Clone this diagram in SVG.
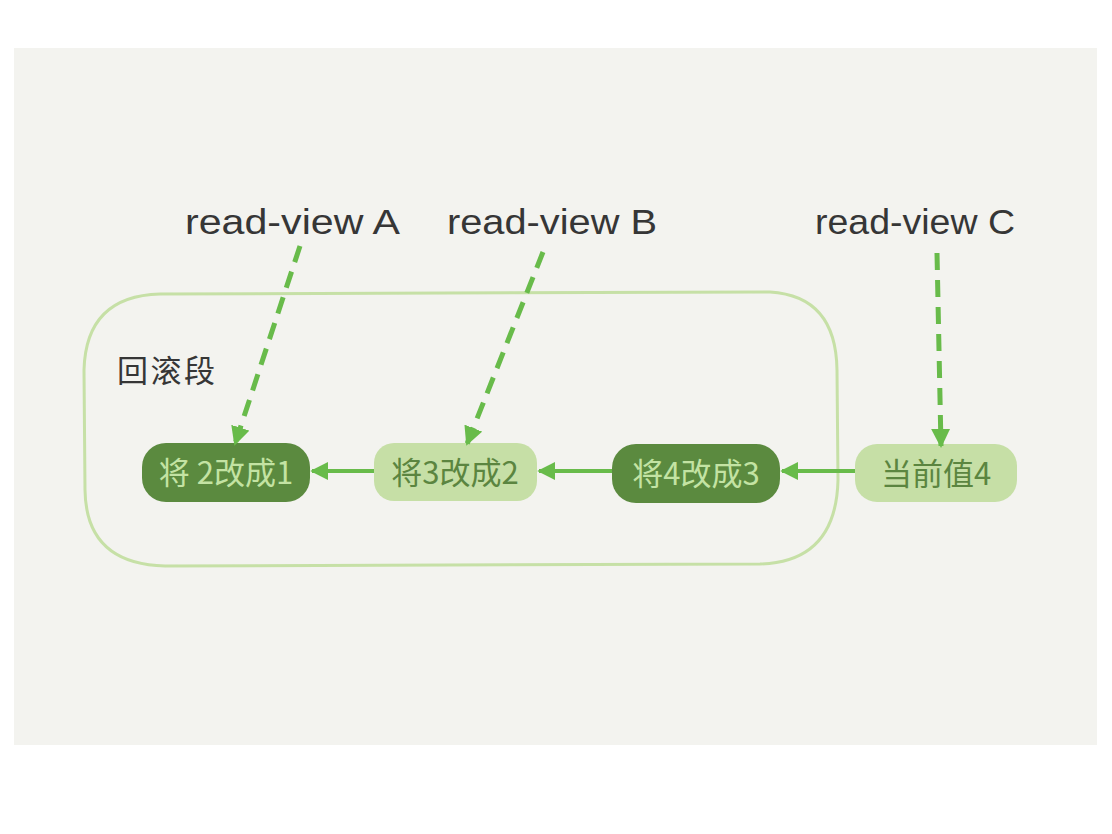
<svg xmlns="http://www.w3.org/2000/svg" width="1112" height="834" viewBox="0 0 1112 834">
<style>
.lbl{font-family:"Liberation Sans","Noto Sans CJK SC",sans-serif;fill:#363636;font-size:35px}
.cn{font-family:"Noto Sans CJK SC","Liberation Sans",sans-serif;font-size:31px}
.dark{fill:#5b8a3f}
.light{fill:#c6dfa6}
.dtxt{fill:#c3e3a3}
.ltxt{fill:#5b8540}
.link{stroke:#68bb4a;stroke-width:4;fill:none}
.dash{stroke:#68bb4a;stroke-width:5;fill:none;stroke-dasharray:17 10}
</style>
<defs>
<marker id="ah" viewBox="0 0 10 10" refX="9" refY="5" markerWidth="4.5" markerHeight="4.5" orient="auto" markerUnits="strokeWidth">
<path d="M0,0 L10,5 L0,10 Z" fill="#68bb4a"/>
</marker>
<marker id="ahd" viewBox="0 0 10 10" refX="9" refY="5" markerWidth="3.8" markerHeight="3.8" orient="auto" markerUnits="strokeWidth">
<path d="M0,0 L10,5 L0,10 Z" fill="#68bb4a"/>
</marker>
</defs>
<rect x="0" y="0" width="1112" height="834" fill="#ffffff"/>
<rect x="14" y="48" width="1083" height="697" fill="#f3f3ef"/>

<g id="container">
<path d="M160,294 L770,292 Q836,296 837,370 L838,480 Q836,562 760,564 L165,566 Q86,564 85,490 L84,370 Q86,296 160,294 Z" fill="none" stroke="#c6e0a6" stroke-width="3"/>
<text class="cn" x="117" y="382" font-size="32" fill="#363636" textLength="98">回滚段</text>
</g>

<g id="labelA"><text class="lbl" x="185" y="234" textLength="215" lengthAdjust="spacingAndGlyphs">read-view A</text></g>
<g id="labelB"><text class="lbl" x="447" y="234" textLength="210" lengthAdjust="spacingAndGlyphs">read-view B</text></g>
<g id="labelC"><text class="lbl" x="815" y="234" textLength="200" lengthAdjust="spacingAndGlyphs">read-view C</text></g>

<g id="nodeA">
<rect class="dark" x="142" y="443" width="168" height="59" rx="24"/>
<text class="cn dtxt" x="226" y="484" text-anchor="middle">将 2改成1</text>
</g>
<g id="nodeB">
<rect class="light" x="374" y="443" width="163" height="58" rx="20"/>
<text class="cn ltxt" x="455" y="484" text-anchor="middle">将3改成2</text>
</g>
<g id="nodeC">
<rect class="dark" x="612" y="444" width="168" height="59" rx="24"/>
<text class="cn dtxt" x="696" y="485" text-anchor="middle">将4改成3</text>
</g>
<g id="nodeD">
<rect class="light" x="855" y="444" width="162" height="58" rx="22"/>
<text class="cn ltxt" x="936" y="485" text-anchor="middle">当前值4</text>
</g>

<g id="connectors">
<line class="link" x1="855" y1="471" x2="782" y2="471" marker-end="url(#ah)"/>
<line class="link" x1="612" y1="471" x2="539" y2="471" marker-end="url(#ah)"/>
<line class="link" x1="374" y1="471" x2="312" y2="471" marker-end="url(#ah)"/>
<line class="dash" x1="300" y1="246" x2="235" y2="444" marker-end="url(#ahd)"/>
<line class="dash" x1="543" y1="252" x2="467" y2="444" marker-end="url(#ahd)"/>
<line class="dash" x1="937" y1="253" x2="941" y2="446" marker-end="url(#ahd)"/>
</g>
</svg>
